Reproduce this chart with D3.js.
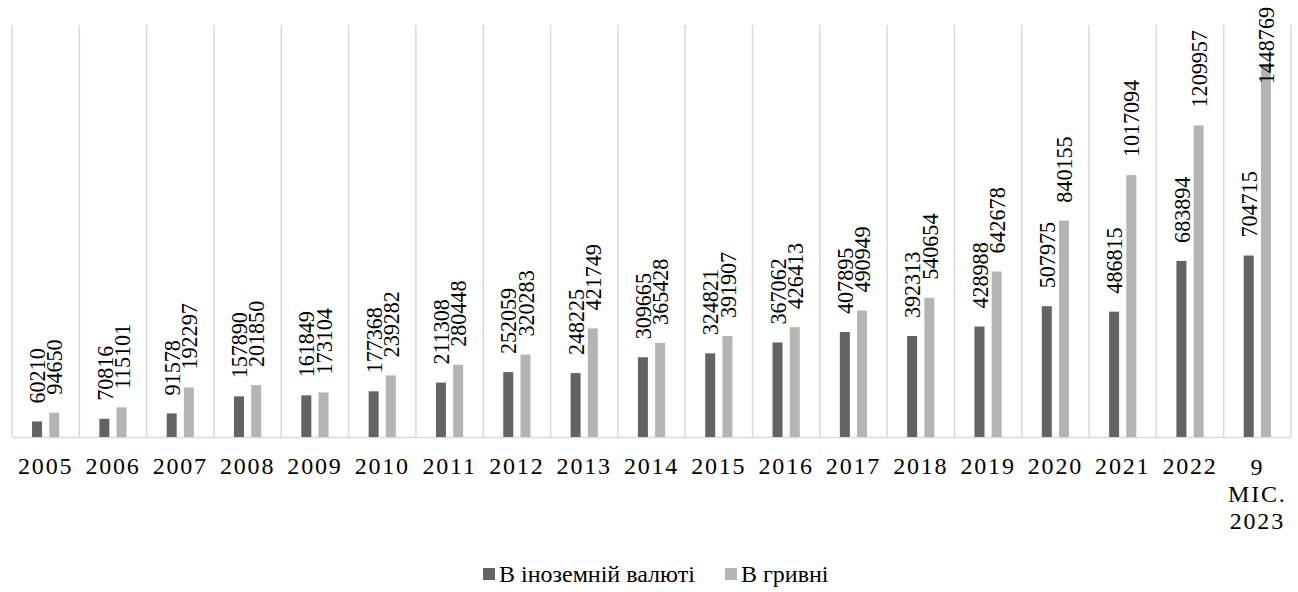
<!DOCTYPE html>
<html>
<head>
<meta charset="utf-8">
<script src="https://cdn.jsdelivr.net/npm/d3@7"></script>
<style>
  html, body { margin: 0; padding: 0; background: #fff; }
  svg { display: block; }
  svg text { font-family: "Liberation Serif", "Times New Roman", serif; }
</style>
</head>
<body>
<svg id="chart" width="1298" height="592"></svg>
<script>
// Deposits by currency, 2005 – 9 months of 2023
const categories = ["2005", "2006", "2007", "2008", "2009", "2010", "2011", "2012", "2013",
  "2014", "2015", "2016", "2017", "2018", "2019", "2020", "2021", "2022", "9 МІС. 2023"];
const seriesNames = ["В іноземній валюті", "В гривні"];
const foreignValues = [60210, 70816, 91578, 157890, 161849, 177368, 211308, 252059, 248225,
  309665, 324821, 367062, 407895, 392313, 428988, 507975, 486815, 683894, 704715];
const hryvniaValues = [94650, 115101, 192297, 201850, 173104, 239282, 280448, 320283, 421749,
  365428, 391907, 426413, 490949, 540654, 642678, 840155, 1017094, 1209957, 1448769];
const seriesColors = ["#636363", "#b4b4b4"];

const FONT = "Liberation Serif, Times New Roman, serif";
const svg = d3.select("#chart");
const plot = { left: 12, right: 1291, top: 25, bottom: 437 };

const x = d3.scaleBand().domain(categories).range([plot.left, plot.right]).padding(0);
const bw = x.bandwidth();
const xs = d3.scaleBand().domain([0, 1])
  .range([bw / 2 - 13.6, bw / 2 + 13.6]).paddingInner(0.419).paddingOuter(0);
const y = d3.scaleLinear().domain([0, 1600000]).range([plot.bottom, plot.top]);

// vertical category gridlines
svg.append("g")
  .selectAll("line")
  .data(d3.range(categories.length + 1))
  .join("line")
  .attr("x1", i => plot.left + i * bw)
  .attr("x2", i => plot.left + i * bw)
  .attr("y1", plot.top)
  .attr("y2", plot.bottom)
  .attr("stroke", "#d9d9d9")
  .attr("stroke-width", 1.5);

// category axis
const axis = svg.append("g")
  .attr("transform", `translate(0,${plot.bottom})`)
  .call(d3.axisBottom(x).tickSize(0).tickPadding(0));
axis.attr("font-family", FONT);
axis.select(".domain").attr("stroke", "#d9d9d9").attr("stroke-width", 1.5);
axis.selectAll(".tick text").each(function (d) {
  const t = d3.select(this)
    .attr("font-size", 24)
    .attr("letter-spacing", 1.8)
    .attr("fill", "#000")
    .attr("font-family", FONT)
    .attr("dy", null)
    .attr("y", 37)
    .text(null);
  const lines = d.split(" ");
  if (lines.length === 1) {
    t.append("tspan").attr("x", 0).attr("y", 37).text(d);
  } else {
    lines.forEach((ln, i) => t.append("tspan").attr("x", 0).attr("y", 38 + i * 27).text(ln));
  }
});

// bars
const rows = categories.map((c, i) => ({ cat: c, vals: [foreignValues[i], hryvniaValues[i]] }));
const groups = svg.append("g").selectAll("g")
  .data(rows)
  .join("g")
  .attr("transform", d => `translate(${x(d.cat)},0)`);

groups.selectAll("rect")
  .data(d => d.vals.map((v, k) => ({ k, v })))
  .join("rect")
  .attr("x", d => xs(d.k))
  .attr("width", xs.bandwidth())
  .attr("y", d => y(d.v))
  .attr("height", d => y(0) - y(d.v))
  .attr("fill", d => seriesColors[d.k]);

// value labels, rotated and slightly condensed, above each bar
const squeeze = 0.92;
groups.selectAll("text")
  .data(d => d.vals.map((v, k) => ({ k, v })))
  .join("text")
  .attr("font-size", 24)
  .attr("font-family", FONT)
  .attr("fill", "#000")
  .text(d => d.v)
  .each(function (d) {
    const len = this.getComputedTextLength() * squeeze;
    const cx = xs(d.k) + xs.bandwidth() / 2;
    let start = y(d.v) - 18;
    if (start - len < 7) start = 7 + len;
    d3.select(this)
      .attr("transform", `translate(${cx},${start}) rotate(-90) scale(${squeeze},1)`)
      .attr("dy", "0.34em");
  });

// legend
const legend = svg.append("g");
const legendItems = [{ x: 483, name: seriesNames[0], c: seriesColors[0] },
                     { x: 725, name: seriesNames[1], c: seriesColors[1] }];
legendItems.forEach(it => {
  legend.append("rect").attr("x", it.x).attr("y", 568).attr("width", 12).attr("height", 12).attr("fill", it.c);
  legend.append("text").attr("x", it.x + 16).attr("y", 582).attr("font-size", 24)
    .attr("font-family", FONT).attr("fill", "#000").text(it.name);
});
</script>
</body>
</html>
